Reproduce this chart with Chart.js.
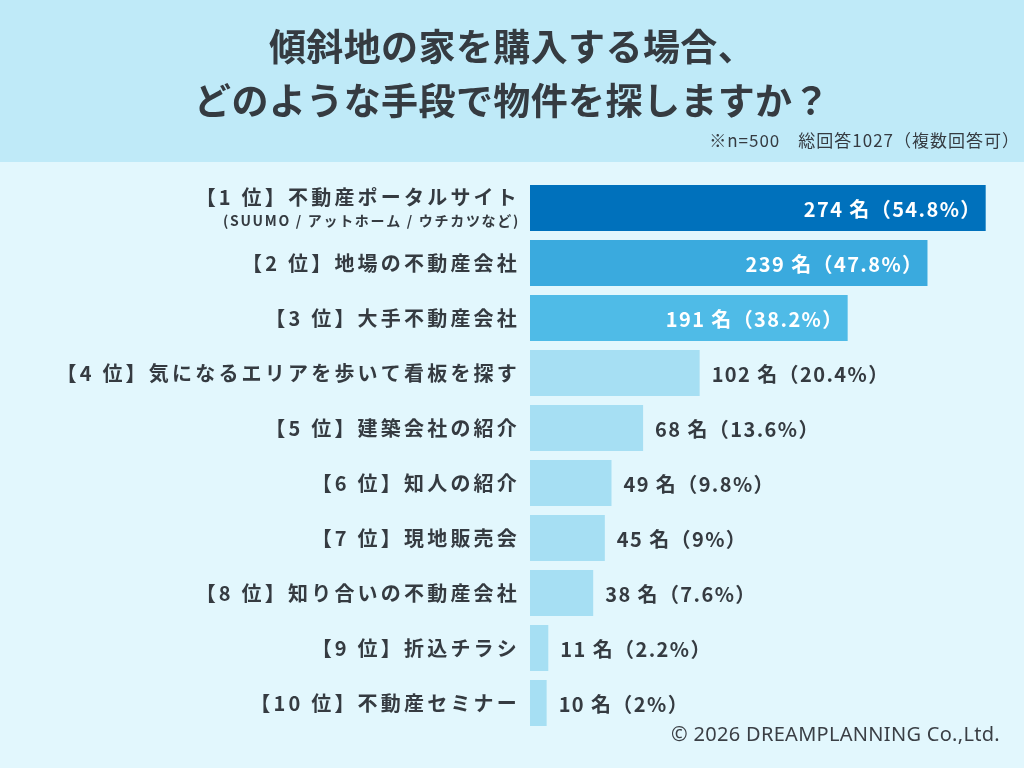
<!DOCTYPE html>
<html>
<head>
<meta charset="utf-8">
<script src="https://cdn.jsdelivr.net/npm/chart.js@4"></script>
<style>
  html, body { margin: 0; padding: 0; background: #e2f7fd; }
  canvas { display: block; }
</style>
</head>
<body>
<canvas id="rankChart" width="1024" height="768"></canvas>
<script>
// survey data
const categories = [
  '【1 位】不動産ポータルサイト',
  '【2 位】地場の不動産会社',
  '【3 位】大手不動産会社',
  '【4 位】気になるエリアを歩いて看板を探す',
  '【5 位】建築会社の紹介',
  '【6 位】知人の紹介',
  '【7 位】現地販売会',
  '【8 位】知り合いの不動産会社',
  '【9 位】折込チラシ',
  '【10 位】不動産セミナー'
];
const firstNote = '(SUUMO / アットホーム / ウチカツなど)';
const counts = [274, 239, 191, 102, 68, 49, 45, 38, 11, 10];
const percents = ['54.8', '47.8', '38.2', '20.4', '13.6', '9.8', '9', '7.6', '2.2', '2'];
const titleLines = ['傾斜地の家を購入する場合、', 'どのような手段で物件を探しますか？'];
const noteText = '※n=500　総回答1027（複数回答可）';
const creditText = '© 2026 DREAMPLANNING Co.,Ltd.';

const JP = "'Noto Sans CJK JP', 'Noto Sans', sans-serif";
const TEXT = '#353b41';
const barColors = ['#0071bc', '#3aaade', '#4fbbe7'];
const lightBar = '#a6dff3';

// backgrounds, header and footer text
const framePlugin = {
  id: 'frame',
  beforeDraw(chart) {
    const ctx = chart.ctx;
    ctx.save();
    ctx.fillStyle = '#e2f7fd';
    ctx.fillRect(0, 0, chart.width, chart.height);
    ctx.fillStyle = '#bfeaf8';
    ctx.fillRect(0, 0, chart.width, 162);

    ctx.fillStyle = TEXT;
    ctx.textAlign = 'center';
    ctx.textBaseline = 'middle';
    ctx.font = 'bold 37px ' + JP;
    ctx.letterSpacing = '0.4px';
    ctx.fillText(titleLines[0], 512, 47);
    ctx.fillText(titleLines[1], 512, 101);

    ctx.textAlign = 'right';
    ctx.font = '17px ' + JP;
    ctx.letterSpacing = '1px';
    ctx.fillText(noteText, 1020, 141);

    ctx.letterSpacing = '0.3px';
    ctx.font = "20px 'Noto Sans', sans-serif";
    ctx.fillStyle = '#3a3f45';
    ctx.fillText(creditText, 1000, 735);
    ctx.restore();
  }
};

// category names and value labels
const labelPlugin = {
  id: 'labels',
  afterDatasetsDraw(chart) {
    const ctx = chart.ctx;
    const yScale = chart.scales.y;
    const bars = chart.getDatasetMeta(0).data;
    ctx.save();
    ctx.textBaseline = 'middle';
    categories.forEach((name, i) => {
      const y = yScale.getPixelForValue(i);
      ctx.fillStyle = TEXT;
      ctx.textAlign = 'right';
      ctx.letterSpacing = '3.2px';
      ctx.font = 'bold 20px ' + JP;
      if (i === 0) {
        ctx.fillText(name, 520, y - 11);
        ctx.font = 'bold 14px ' + JP;
        ctx.letterSpacing = '1.7px';
        ctx.fillText(firstNote, 520, y + 13);
      } else {
        ctx.fillText(name, 520, y);
      }

      const bar = bars[i];
      const txt = counts[i] + ' 名（' + percents[i] + '%）';
      ctx.font = 'bold 20px ' + JP;
      ctx.letterSpacing = '1.4px';
      if (i < 3) {
        ctx.fillStyle = '#ffffff';
        ctx.textAlign = 'right';
        ctx.fillText(txt, bar.x - 4, y + 1);
      } else {
        ctx.fillStyle = TEXT;
        ctx.textAlign = 'left';
        ctx.fillText(txt, bar.x + 12, y + 1);
      }
    });
    ctx.restore();
  }
};

const chart_ctx = document.getElementById('rankChart');
var rankChart = new Chart(chart_ctx, {
  type: 'bar',
  data: {
    labels: categories,
    datasets: [{
      label: '人数',
      data: counts,
      backgroundColor: (c) => barColors[c.dataIndex] || lightBar,
      borderWidth: 0,
      barPercentage: 0.836,
      categoryPercentage: 1
    }]
  },
  options: {
    indexAxis: 'y',
    responsive: false,
    animation: false,
    layout: {
      padding: { left: 530, right: 25, top: 180.5, bottom: 37.5 }
    },
    plugins: {
      legend: { display: false },
      title: { display: false },
      tooltip: { enabled: false }
    },
    scales: {
      x: { display: false, min: 0, max: 282 },
      y: { display: false }
    }
  },
  plugins: [framePlugin, labelPlugin]
});
</script>
</body>
</html>
